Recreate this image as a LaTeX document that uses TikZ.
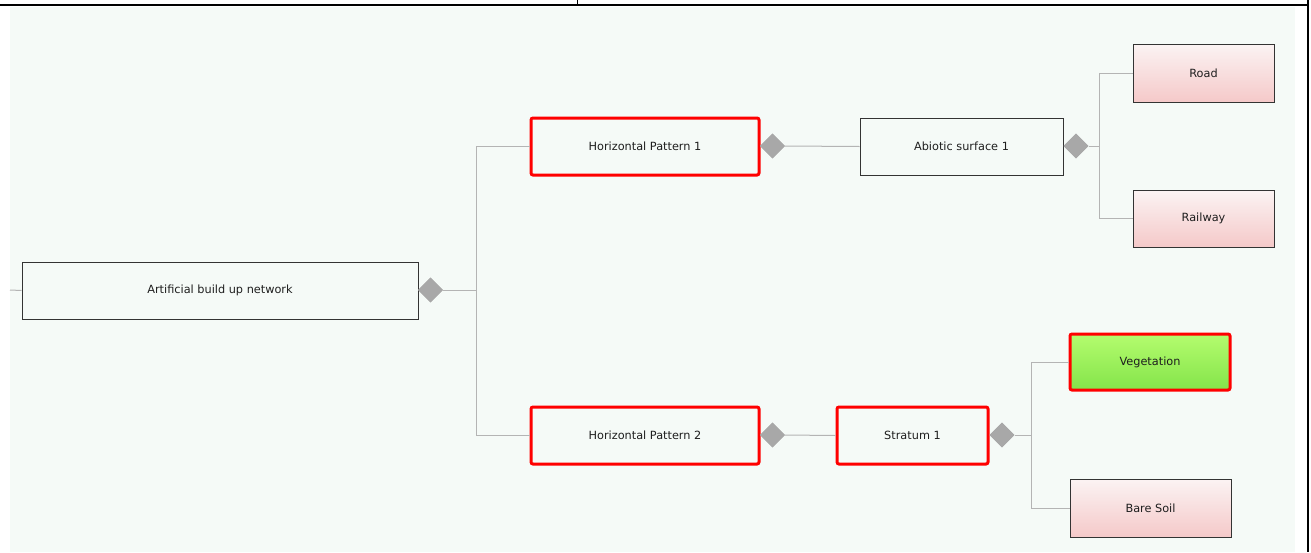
\documentclass[tikz,border=0pt]{standalone}
\usepackage{fontspec}
\setmainfont{DejaVu Sans}
\usetikzlibrary{shapes.geometric}
\definecolor{bgmint}{HTML}{F5FAF7}
\definecolor{linegray}{HTML}{B4B4B4}
\definecolor{diagray}{HTML}{A8A8A8}
\definecolor{boxline}{HTML}{333333}
\definecolor{pinktop}{HTML}{FBF3F3}
\definecolor{pinkbot}{HTML}{F5C9C9}
\definecolor{greentop}{HTML}{B4FC6E}
\definecolor{greenbot}{HTML}{84E44A}
\definecolor{txt}{HTML}{1E1E1E}
\tikzset{
  box/.style={draw=boxline, line width=1pt, fill=bgmint, inner sep=0pt, text=txt,
    font=\fontsize{11.3}{13}\selectfont},
  redbox/.style={box, draw=red, line width=3pt, rounded corners=2pt},
  pinkbox/.style={box, top color=pinktop, bottom color=pinkbot},
  greenbox/.style={redbox, top color=greentop, bottom color=greenbot},
  dia/.style={diamond, fill=diagray, draw=none, minimum width=25pt, minimum height=25pt, inner sep=0pt},
  conn/.style={draw=linegray, line width=1pt},
}
\begin{document}
\begin{tikzpicture}[x=1pt,y=-1pt]
\useasboundingbox (0,0) rectangle (1311,552);
\fill[white] (0,0) rectangle (1311,552);
\fill[bgmint] (10,7) rectangle (1295,552);
% frame lines
\draw[line width=2pt] (0,5) -- (1309,5);
\draw[line width=1pt] (577,0) -- (577,5);
\draw[line width=2pt] (1308,0) -- (1308,552);

% nodes
\node[box, minimum width=396pt, minimum height=57pt] (abn) at (220,290.5) {Artificial build up network};
\node[redbox, minimum width=228pt, minimum height=57pt] (hp1) at (645,146.5) {Horizontal Pattern 1};
\node[redbox, minimum width=228pt, minimum height=57pt] (hp2) at (645,435.5) {Horizontal Pattern 2};
\node[box, minimum width=203pt, minimum height=57pt] (abs) at (961.5,146.5) {Abiotic surface 1};
\node[redbox, minimum width=151pt, minimum height=57pt] (str) at (912.5,435.5) {Stratum 1};
\node[pinkbox, minimum width=141pt, minimum height=58pt] (road) at (1203.5,73) {Road};
\node[pinkbox, minimum width=141pt, minimum height=57pt] (rail) at (1203.5,218.5) {Railway};
\node[greenbox, minimum width=160pt, minimum height=56pt] (veg) at (1150,362) {Vegetation};
\node[pinkbox, minimum width=161pt, minimum height=58pt] (soil) at (1150.5,508) {Bare Soil};

% diamonds
\node[dia] (d1) at (430.5,290) {};
\node[dia] (d2) at (772.5,146) {};
\node[dia] (d3) at (1076,146) {};
\node[dia] (d4) at (772.5,435) {};
\node[dia] (d5) at (1002,435) {};

% junction coordinates
\coordinate (in0) at (10,290);
\coordinate (j1) at (476,290);
\coordinate (j3) at (1099,146);
\coordinate (j5) at (1031,435);

% connectors
\draw[conn] (in0) -- (abn.west);
\draw[conn] (d1.east) -- (j1);
\draw[conn] (j1) |- (hp1.west);
\draw[conn] (j1) |- (hp2.west);
\draw[conn] (d2.east) -- (abs.west);
\draw[conn] (d3.east) -- (j3);
\draw[conn] (j3) |- (road.west);
\draw[conn] (j3) |- (rail.west);
\draw[conn] (d4.east) -- (str.west);
\draw[conn] (d5.east) -- (j5);
\draw[conn] (j5) |- (veg.west);
\draw[conn] (j5) |- (soil.west);

% redraw diamonds on top
\node[dia] at (d1) {};
\node[dia] at (d2) {};
\node[dia] at (d3) {};
\node[dia] at (d4) {};
\node[dia] at (d5) {};
\end{tikzpicture}
\end{document}
